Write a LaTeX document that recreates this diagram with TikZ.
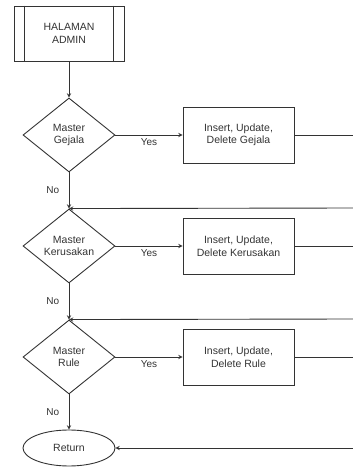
\documentclass[tikz,border=0pt]{standalone}
\usepackage{fontspec}
\setmainfont{Liberation Sans}
\usetikzlibrary{shapes,arrows,calc,positioning}
\tikzstyle{arrow} = [->, >=stealth]
\tikzstyle{proc} = [draw, rectangle, minimum width=111pt, minimum height=56pt, align=center]
\tikzstyle{decision} = [draw, diamond, aspect=1.25, minimum width=92pt, minimum height=74pt, inner sep=0pt, align=center]
\tikzstyle{term} = [draw, ellipse, minimum width=92pt, minimum height=36pt]
\tikzstyle{lbl} = [font=\fontsize{10}{12}\selectfont]

\begin{document}
\begin{tikzpicture}[x=1pt,y=1pt,color=black!80,line width=0.9pt,font=\fontsize{10.5}{12.5}\selectfont]
\useasboundingbox (0,0) rectangle (353,467);
% start
\node[draw, rectangle, minimum width=110pt, minimum height=55pt, align=center] (admin) at (69,433.5) {HALAMAN\\ADMIN};
\draw ($(admin.north west)+(11,0)$) -- ($(admin.south west)+(11,0)$);
\draw ($(admin.north east)+(-11,0)$) -- ($(admin.south east)+(-11,0)$);

% decisions
\node[decision] (gejala) at (69,332) {Master\\Gejala};
\node[decision] (rusak) at (69,221) {Master\\Kerusakan};
\node[decision] (rule) at (69,110) {Master\\Rule};
\node[term] (ret) at (69,19) {Return};

% processes
\node[proc] (pgejala) at (238.5,332) {Insert, Update,\\Delete Gejala};
\node[proc] (prusak) at (238.5,221) {Insert, Update,\\Delete Kerusakan};
\node[proc] (prule) at (238.5,110) {Insert, Update,\\Delete Rule};

% free ends at the right border
\coordinate (out1) at (353,332);
\coordinate (out2) at (353,221);
\coordinate (out3) at (353,110);
\coordinate (in1) at (353,259);
\coordinate (in2) at (353,148);
\coordinate (in3) at (353,19);

\draw[arrow] (admin) -- (gejala);
\draw[arrow] (gejala) -- node[below, lbl] {Yes} (pgejala);
\draw[arrow] (rusak) -- node[below, lbl] {Yes} (prusak);
\draw[arrow] (rule) -- node[below, lbl] {Yes} (prule);
\draw[arrow] (gejala) -- node[left, lbl, xshift=-6pt] {No} (rusak);
\draw[arrow] (rusak) -- node[left, lbl, xshift=-6pt] {No} (rule);
\draw[arrow] (rule) -- node[left, lbl, xshift=-6pt] {No} (ret);

\draw (pgejala) -- (out1);
\draw (prusak) -- (out2);
\draw (prule) -- (out3);
\draw[arrow] (in1) -- (rusak.north);
\draw[arrow] (in2) -- (rule.north);
\draw[arrow] (in3) -- (ret);
\end{tikzpicture}
\end{document}
